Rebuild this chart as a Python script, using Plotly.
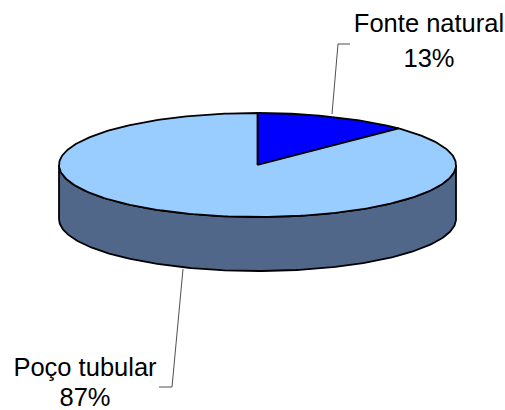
import numpy as np
import plotly.graph_objects as go

labels = ["Fonte natural", "Poço tubular"]
values = [12.6, 87.4]
percent_labels = ["13%", "87%"]
colors = ["#0000FF", "#99CCFF"]
side_color = "#50678A"

cx, cy, rx, ry, depth = 257.5, 165, 198.5, 52, 54
W, H = 505, 410

def pt(frac):
    a = 2 * np.pi * np.asarray(frac)
    return cx + rx * np.sin(a), cy - ry * np.cos(a)

fig = go.Figure()
LW = 1.8
t = np.linspace(0.25, 0.75, 200)
x, y = pt(t)
fig.add_trace(go.Scatter(x=np.r_[x, x[::-1], x[0]], y=np.r_[y, y[::-1] + depth, y[0]], mode="lines",
                         fill="toself", fillcolor=side_color, line=dict(color="black", width=LW), hoverinfo="skip"))
start = 0.0
for v, c in zip(values, colors):
    f = v / sum(values)
    t = np.linspace(start, start + f, 300)
    x, y = pt(t)
    fig.add_trace(go.Scatter(x=np.r_[cx, x, cx], y=np.r_[cy, y, cy], mode="lines", fill="toself",
                             fillcolor=c, line=dict(color="black", width=LW), hoverinfo="skip"))
    start += f

for lx, ly in [([332, 338, 350], [114, 44, 44]), ([183, 172, 159], [269, 387, 387])]:
    fig.add_trace(go.Scatter(x=lx, y=ly, mode="lines", line=dict(color="#222222", width=0.8), hoverinfo="skip"))

font = dict(family="Liberation Sans", size=25.5, color="black")
fig.add_trace(go.Scatter(
    x=[429, 429, 85, 85], y=[25.5, 61, 369.5, 400],
    text=[labels[0], percent_labels[0], labels[1], percent_labels[1]],
    mode="text", textposition="middle center", textfont=font, cliponaxis=False, hoverinfo="skip"))

fig.update_layout(width=W, height=H, margin=dict(l=0, r=0, t=0, b=0), showlegend=False,
                  paper_bgcolor="white", plot_bgcolor="white",
                  xaxis=dict(range=[0, W], visible=False, fixedrange=True),
                  yaxis=dict(range=[H, 0], visible=False, fixedrange=True))
fig.write_html("out.html", config={"displayModeBar": False},
               default_width=f"{W}px", default_height=f"{H}px",
               post_script="document.body.style.margin='0';document.documentElement.style.margin='0';")
